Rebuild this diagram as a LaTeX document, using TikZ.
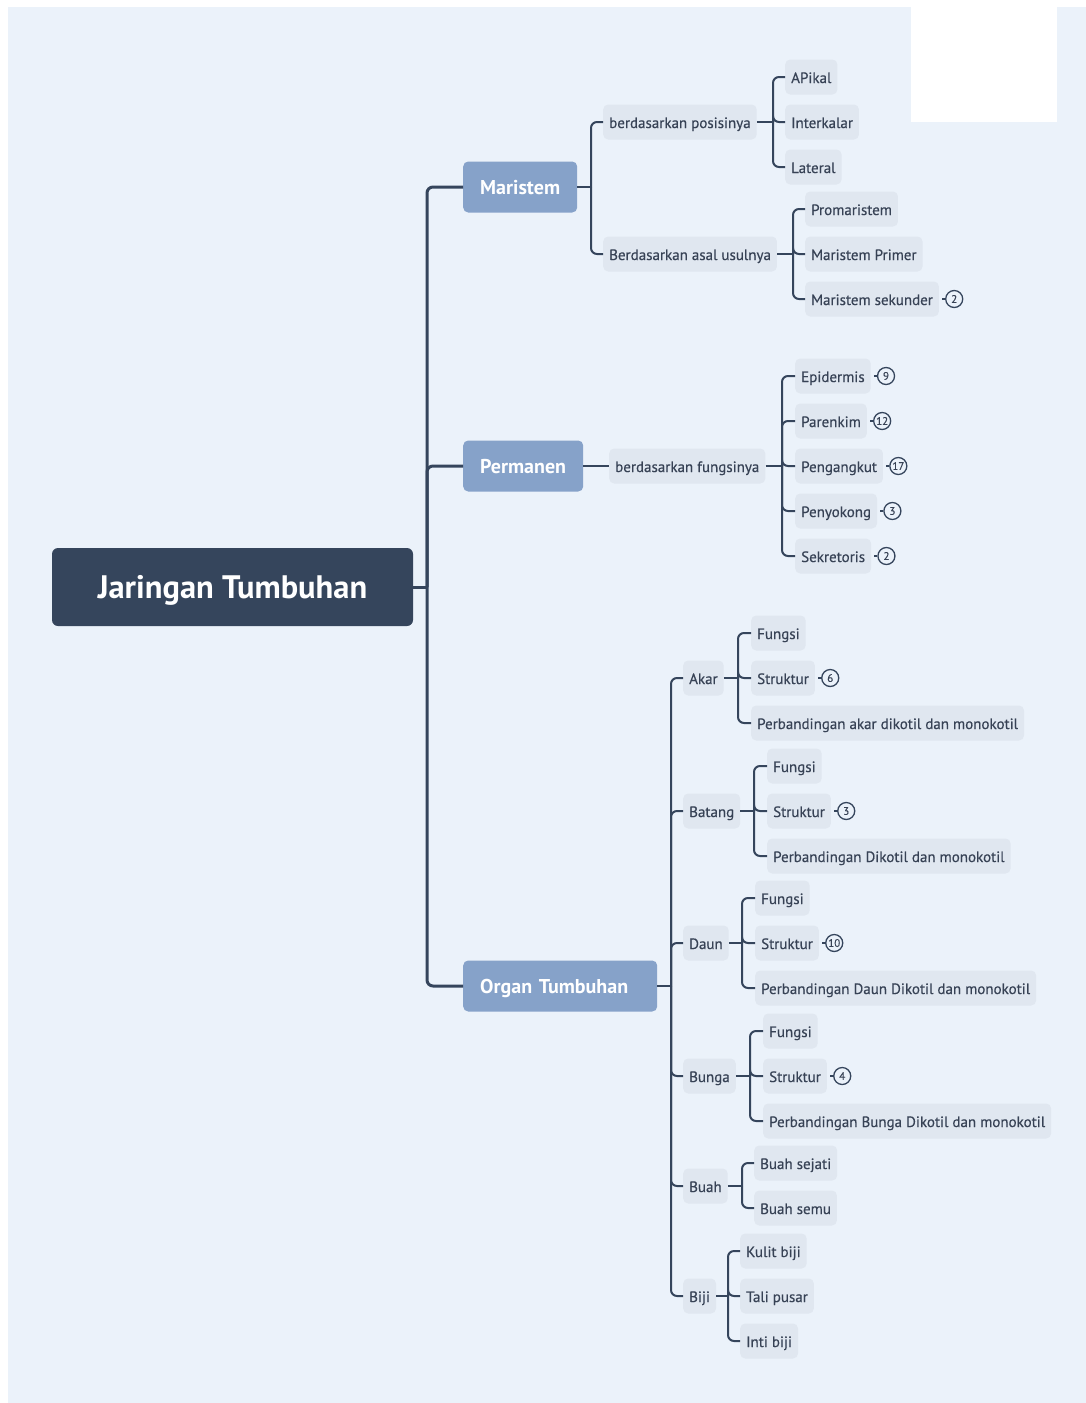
\documentclass[tikz,border=0pt]{standalone}
\usepackage{fontspec}
\setmainfont{PT Sans}
\newfontfamily\leaffont{PT Sans}[FakeBold=0.4]
\usetikzlibrary{positioning}

\definecolor{bgblue}{HTML}{EBF2FA}
\definecolor{navy}{HTML}{35455C}
\definecolor{midblue}{HTML}{86A2C9}
\definecolor{leaffill}{HTML}{E0E7F0}
\definecolor{inktext}{HTML}{374255}

\begin{document}
\begin{tikzpicture}[x=1pt,y=-1pt,
  root/.style={fill=navy,rounded corners=6pt,text=white,font=\fontsize{32.5}{36}\selectfont\bfseries,minimum width=361pt,minimum height=78pt,text height=26pt,text depth=4pt},
  topic/.style={fill=midblue,rounded corners=5pt,text=white,font=\fontsize{20}{22}\selectfont\bfseries,minimum height=51pt,inner xsep=17pt,text width=#1,align=left,text height=16pt,text depth=2pt,anchor=west},
  leaf/.style={fill=leaffill,rounded corners=5pt,text=inktext,font=\leaffont\fontsize{15}{18}\selectfont,minimum height=35pt,inner xsep=6pt,text height=13pt,text depth=1pt,anchor=west},
  badge/.style={circle,draw=navy,line width=1.3pt,inner sep=0pt,minimum size=17pt,text=inktext,font=\leaffont\fontsize{11}{11}\selectfont},
  trunk/.style={draw=navy,line width=3pt},
  link/.style={draw=navy,line width=2pt},
  elbow/.style={rounded corners=6pt,to path={|- (\tikztotarget)}}]

  \path[use as bounding box] (0,0) rectangle (1086,1403);
  \fill[bgblue] (8,7) rectangle (1086,1403);
  \fill[white] (911,7) rectangle (1057,122);

  \node[root] (root) at (232.5,587) {Jaringan Tumbuhan};
  \node[topic=80pt] (maristem) at (463,187) {Maristem};
  \node[topic=86pt] (permanen) at (463,466) {Permanen};
  \node[topic=160pt] (organ) at (463,986) {Organ Tumbuhan};

  \node[leaf] (posisi) at (603,122) {berdasarkan posisinya};
  \node[leaf] (asal) at (603,254) {Berdasarkan asal usulnya};
  \node[leaf] (apikal) at (785,77) {APikal};
  \node[leaf] (interkalar) at (785,122) {Interkalar};
  \node[leaf] (lateral) at (785,167) {Lateral};
  \node[leaf] (promar) at (805,209) {Promaristem};
  \node[leaf] (primer) at (805,254) {Maristem Primer};
  \node[leaf] (sekunder) at (805,299) {Maristem sekunder};

  \node[leaf] (fungsi) at (609,466) {berdasarkan fungsinya};
  \node[leaf] (epi) at (795,376) {Epidermis};
  \node[leaf] (par) at (795,421) {Parenkim};
  \node[leaf] (angkut) at (795,466) {Pengangkut};
  \node[leaf] (sokong) at (795,511) {Penyokong};
  \node[leaf] (sekret) at (795,556) {Sekretoris};

  \node[leaf] (akar) at (683,678) {Akar};
  \node[leaf] (batang) at (683,811) {Batang};
  \node[leaf] (daun) at (683,943) {Daun};
  \node[leaf] (bunga) at (683,1076) {Bunga};
  \node[leaf] (buah) at (683,1186) {Buah};
  \node[leaf] (biji) at (683,1296) {Biji};

  \node[leaf] (akar-f) at (751,633) {Fungsi};
  \node[leaf] (akar-s) at (751,678) {Struktur};
  \node[leaf] (akar-p) at (751,723) {Perbandingan akar dikotil dan monokotil};
  \node[leaf] (batang-f) at (767,766) {Fungsi};
  \node[leaf] (batang-s) at (767,811) {Struktur};
  \node[leaf] (batang-p) at (767,856) {Perbandingan Dikotil dan monokotil};
  \node[leaf] (daun-f) at (755,898) {Fungsi};
  \node[leaf] (daun-s) at (755,943) {Struktur};
  \node[leaf] (daun-p) at (755,988) {Perbandingan Daun Dikotil dan monokotil};
  \node[leaf] (bunga-f) at (763,1031) {Fungsi};
  \node[leaf] (bunga-s) at (763,1076) {Struktur};
  \node[leaf] (bunga-p) at (763,1121) {Perbandingan Bunga Dikotil dan monokotil};
  \node[leaf] (buah-1) at (754,1163) {Buah sejati};
  \node[leaf] (buah-2) at (754,1208) {Buah semu};
  \node[leaf] (biji-1) at (740,1251) {Kulit biji};
  \node[leaf] (biji-2) at (740,1296) {Tali pusar};
  \node[leaf] (biji-3) at (740,1341) {Inti biji};

  \draw[trunk] (root.east) -- (427,587) coordinate (root-bus);
  \path[trunk]
    (root-bus) edge[elbow] (maristem.west)
               edge[elbow] (permanen.west)
               edge[elbow] (organ.west);

  \draw[link] (maristem.east) -- (591,187) coordinate (maristem-bus);
  \path[link]
    (maristem-bus) edge[elbow] (posisi.west)
                   edge[elbow] (asal.west);
  \draw[link] (posisi.east) -- (773,122) coordinate (posisi-bus);
  \path[link]
    (posisi-bus) edge[elbow] (apikal.west)
                 edge[elbow] (interkalar.west)
                 edge[elbow] (lateral.west);
  \draw[link] (asal.east) -- (793,254) coordinate (asal-bus);
  \path[link]
    (asal-bus) edge[elbow] (promar.west)
               edge[elbow] (primer.west)
               edge[elbow] (sekunder.west);

  \draw[link] (permanen.east) -- (fungsi.west);
  \draw[link] (fungsi.east) -- (782,466) coordinate (fungsi-bus);
  \path[link]
    (fungsi-bus) edge[elbow] (epi.west)
                 edge[elbow] (par.west)
                 edge[elbow] (angkut.west)
                 edge[elbow] (sokong.west)
                 edge[elbow] (sekret.west);

  \draw[link] (organ.east) -- (671,986) coordinate (organ-bus);
  \path[link]
    (organ-bus) edge[elbow] (akar.west)
                edge[elbow] (batang.west)
                edge[elbow] (daun.west)
                edge[elbow] (bunga.west)
                edge[elbow] (buah.west)
                edge[elbow] (biji.west);

  \foreach \part/\busx in {akar/738,batang/754,daun/742,bunga/750} {
    \draw[link] (\part.east) -- (\busx,0 |- \part.east) coordinate (\part-bus);
    \path[link]
      (\part-bus) edge[elbow] (\part-f.west)
                  edge[elbow] (\part-s.west)
                  edge[elbow] (\part-p.west);
  }
  \draw[link] (buah.east) -- (742,1186) coordinate (buah-bus);
  \path[link]
    (buah-bus) edge[elbow] (buah-1.west)
               edge[elbow] (buah-2.west);
  \draw[link] (biji.east) -- (728,1296) coordinate (biji-bus);
  \path[link]
    (biji-bus) edge[elbow] (biji-1.west)
               edge[elbow] (biji-2.west)
               edge[elbow] (biji-3.west);

  \foreach \n/\v in {sekunder/2,epi/9,par/12,angkut/17,sokong/3,sekret/2,
                     akar-s/6,batang-s/3,daun-s/10,bunga-s/4} {
    \node[badge,right=6pt of \n] (\n-badge) {\v};
    \draw[draw=navy,line width=1.5pt,shorten <=3pt] (\n) -- (\n-badge);
  }
\end{tikzpicture}
\end{document}
